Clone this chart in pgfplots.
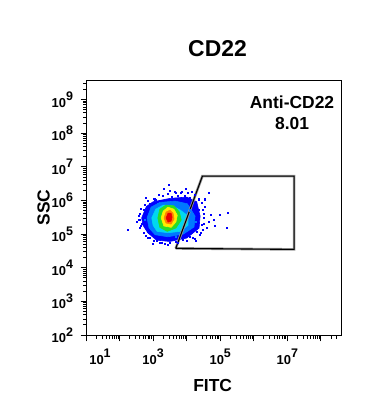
\documentclass[border=0pt]{standalone}
\usepackage{fontspec}
\setmainfont{Liberation Sans}
\usepackage{pgfplots}
\pgfplotsset{compat=1.18}
\definecolor{cA}{RGB}{0,0,255}
\definecolor{cB}{RGB}{0,120,255}
\definecolor{cC}{RGB}{0,215,240}
\definecolor{cD}{RGB}{40,220,40}
\definecolor{cE}{RGB}{255,235,0}
\definecolor{cF}{RGB}{255,130,0}
\definecolor{cG}{RGB}{235,0,0}
\newcommand{\tl}[1]{10\raisebox{6.5bp}{\fontsize{12.5}{12.5}\selectfont #1}}
\begin{document}
\begin{tikzpicture}
\begin{axis}[
  at={(0,0)}, anchor=south west,
  scale only axis, width=255bp, height=255bp,
  xmode=log, ymode=log,
  xmin=10, xmax=3.98e8, ymin=93.3, ymax=3.55e9,
  axis line style={line width=1bp},
  tick align=outside, tick pos=left,
  major tick length=5.5bp, minor tick length=3bp,
  every tick/.style={black, line width=0.8bp},
  xtick={1e1,1e2,1e3,1e4,1e5,1e6,1e7,1e8},
  xticklabels={{\hspace*{28bp}\tl{1}},{},{\tl{3}},{},{\tl{5}},{},{\tl{7}},{}},
  ytick={1e2,1e3,1e4,1e5,1e6,1e7,1e8,1e9},
  yticklabels={{\tl{2}},{\tl{3}},{\tl{4}},{\tl{5}},{\tl{6}},{\tl{7}},{\tl{8}},{\tl{9}}},
  minor xtick={2e1,3e1,4e1,5e1,6e1,7e1,8e1,9e1,2e2,3e2,4e2,5e2,6e2,7e2,8e2,9e2,2e3,3e3,4e3,5e3,6e3,7e3,8e3,9e3,2e4,3e4,4e4,5e4,6e4,7e4,8e4,9e4,2e5,3e5,4e5,5e5,6e5,7e5,8e5,9e5,2e6,3e6,4e6,5e6,6e6,7e6,8e6,9e6,2e7,3e7,4e7,5e7,6e7,7e7,8e7,9e7,2e8,3e8},
  minor ytick={2e2,3e2,4e2,5e2,6e2,7e2,8e2,9e2,2e3,3e3,4e3,5e3,6e3,7e3,8e3,9e3,2e4,3e4,4e4,5e4,6e4,7e4,8e4,9e4,2e5,3e5,4e5,5e5,6e5,7e5,8e5,9e5,2e6,3e6,4e6,5e6,6e6,7e6,8e6,9e6,2e7,3e7,4e7,5e7,6e7,7e7,8e7,9e7,2e8,3e8,4e8,5e8,6e8,7e8,8e8,9e8,2e9,3e9},
  tick label style={font=\fontsize{13}{13}\selectfont\bfseries},
  xticklabel style={yshift=-4bp},
  yticklabel style={xshift=-4bp},
  clip=true,
]
% density levels (outer to inner)
\addplot[fill=cA, draw=cA, line width=0.6bp] coordinates {
 (457,3.02e5) (631,6.61e5) (1000,9.12e5) (3162,1.148e6) (1.0e4,1.259e6)
 (1.995e4,9.12e5) (2.512e4,3.42e5) (2.344e4,1.507e5) (1.0e4,7.586e4)
 (3162,6.026e4) (1259,6.607e4) (692,1.096e5) (501,1.82e5) (457,3.02e5)};
\addplot[fill=cB, draw=cB, line width=0.6bp] coordinates {
 (661,3.02e5) (871,6.31e5) (1585,8.71e5) (4571,9.55e5) (1.047e4,7.943e5)
 (1.778e4,3.42e5) (1.66e4,1.62e5) (7943,1.0e5) (2754,8.318e4)
 (1148,9.55e4) (759,1.514e5) (661,3.02e5)};
\addplot[fill=cC, draw=cC, line width=0.6bp] coordinates {
 (912,3.02e5) (1202,5.495e5) (1995,7.244e5) (3631,6.918e5) (6310,5.248e5)
 (1.096e4,3.467e5) (1.096e4,1.82e5) (6310,1.202e5) (2754,1.096e5)
 (1318,1.202e5) (1000,1.82e5) (912,3.02e5)};
\addplot[fill=cD, draw=cD, line width=0.6bp] coordinates {
 (1380,3.02e5) (1585,5.495e5) (2399,7.244e5) (4169,6.918e5) (6026,4.571e5)
 (6918,2.63e5) (4786,1.514e5) (2630,1.202e5) (1585,1.585e5) (1380,3.02e5)};
\addplot[fill=cE, draw=cE, line width=0.6bp] coordinates {
 (1738,3.02e5) (1995,4.786e5) (2754,6.31e5) (4169,5.495e5) (5248,3.631e5)
 (4786,2.291e5) (3467,1.585e5) (2089,1.738e5) (1738,3.02e5)};
\addplot[fill=cF, draw=cF, line width=0.6bp] coordinates {
 (2118,2.99e5) (2432,4.50e5) (3199,5.15e5) (3936,4.20e5) (4207,2.79e5)
 (3428,1.98e5) (2432,2.12e5) (2118,2.99e5)};
\addplot[fill=cG, draw=cG, line width=0.6bp] coordinates {
 (2432,2.99e5) (2791,4.20e5) (3428,4.20e5) (3673,3.20e5) (3428,2.43e5)
 (2791,2.27e5) (2432,2.99e5)};
% light-blue speckles
\addplot[only marks, mark=square*, mark size=0.6bp, color=cB] coordinates {
 (811,4.50e5) (1403,7.78e5) (1.26e4,5.15e5) (1.91e4,2.27e5) (4831,8.15e4)
 (1143,1.15e5) (575,2.61e5)};
% sparse events
\addplot[only marks, mark=square*, mark size=0.55bp, color=cA] coordinates {
 (2852,2.85e6) (4508,1.77e6) (7145,1.77e6) (1.42e4,1.80e6) (4.45e4,1.68e6)
 (9.9e4,3.66e5) (1.64e5,4.29e5) (1.57e5,1.58e5) (171,1.38e5) (3.15e4,2.08e5)
 (4.45e4,2.32e5) (6.27e4,2.61e5) (2018,2.28e6) (1432,1.44e6) (1016,1.15e6)
 (407,4.12e5) (363,2.61e5) (3.54e4,6.47e5) (3.15e4,4.12e5) (1611,5.51e4)
 (2270,5.05e4) (1016,6.32e4) (2.51e4,9.33e4) (1.78e4,7.45e4)
 (537,5.15e5) (811,7.78e5) (1611,9.77e5) (5546,1.34e6) (1.26e4,1.17e6)
 (2.34e4,5.15e5) (3.08e4,1.32e5) (1.26e4,8.15e4) (4831,5.78e4) (615,8.71e4)
 (407,1.51e5) (381,3.42e5) (2.04e4,1.15e5) (8974,1.34e6) (3673,1.26e6)
 (1225,1.02e6) (468,1.98e5) (706,7.60e4) (7810,6.64e4) (3199,5.40e4)
 (2.34e4,2.79e5) (5.35e4,3.66e5) (7.03e4,1.73e5)
 (575,7.26e5) (706,9.55e5) (1143,1.09e6) (1977,1.34e6) (2791,1.54e6)
 (4831,1.65e6) (6813,1.65e6) (1.10e4,1.65e6) (1.78e4,1.44e6) (2.34e4,1.09e6)
 (2.88e4,8.33e5) (3.08e4,5.15e5) (3.30e4,2.99e5) (2.88e4,1.85e5) (2.69e4,1.07e5)
 (1.55e4,7.60e4) (1.03e4,6.19e4) (5546,5.40e4) (1849,5.40e4) (1309,6.19e4)
 (811,7.60e4) (537,1.07e5) (437,1.73e5) (407,2.61e5) (437,5.52e5) (332,2.27e5)
 (615,1.17e6) (3199,1.89e6) (9594,2.17e6) (3.54e4,1.09e6) (4.06e4,1.51e5)
 (1.91e4,6.19e4) (2791,4.71e4) (995,5.05e4)};
% gate
\addplot[color=black!40, line width=2.6bp] coordinates {
 (4730,3.75e4) (2.95e4,5.3e6) (1.6e7,5.3e6) (1.6e7,3.5e4) (4730,3.75e4)};
\addplot[color=black, line width=1.1bp] coordinates {
 (4730,3.75e4) (2.95e4,5.3e6) (1.6e7,5.3e6) (1.6e7,3.5e4) (4730,3.75e4)};
\node[font=\fontsize{17.5}{17.5}\selectfont\bfseries] at (axis description cs:0.808,0.918) {Anti-CD22};
\node[font=\fontsize{17.5}{17.5}\selectfont\bfseries] at (axis description cs:0.808,0.834) {8.01};
\end{axis}
\node[font=\fontsize{17.5}{17.5}\selectfont\bfseries] at (126.7bp,-49.5bp) {FITC};
\node[font=\fontsize{17.5}{17.5}\selectfont\bfseries, rotate=90] at (-42.5bp,128.3bp) {SSC};
\node[font=\fontsize{23}{23}\selectfont\bfseries] at (131.5bp,287.2bp) {CD22};
\pgfresetboundingbox
\path (-86bp,-81bp) rectangle (303bp,336bp);
\end{tikzpicture}
\end{document}
